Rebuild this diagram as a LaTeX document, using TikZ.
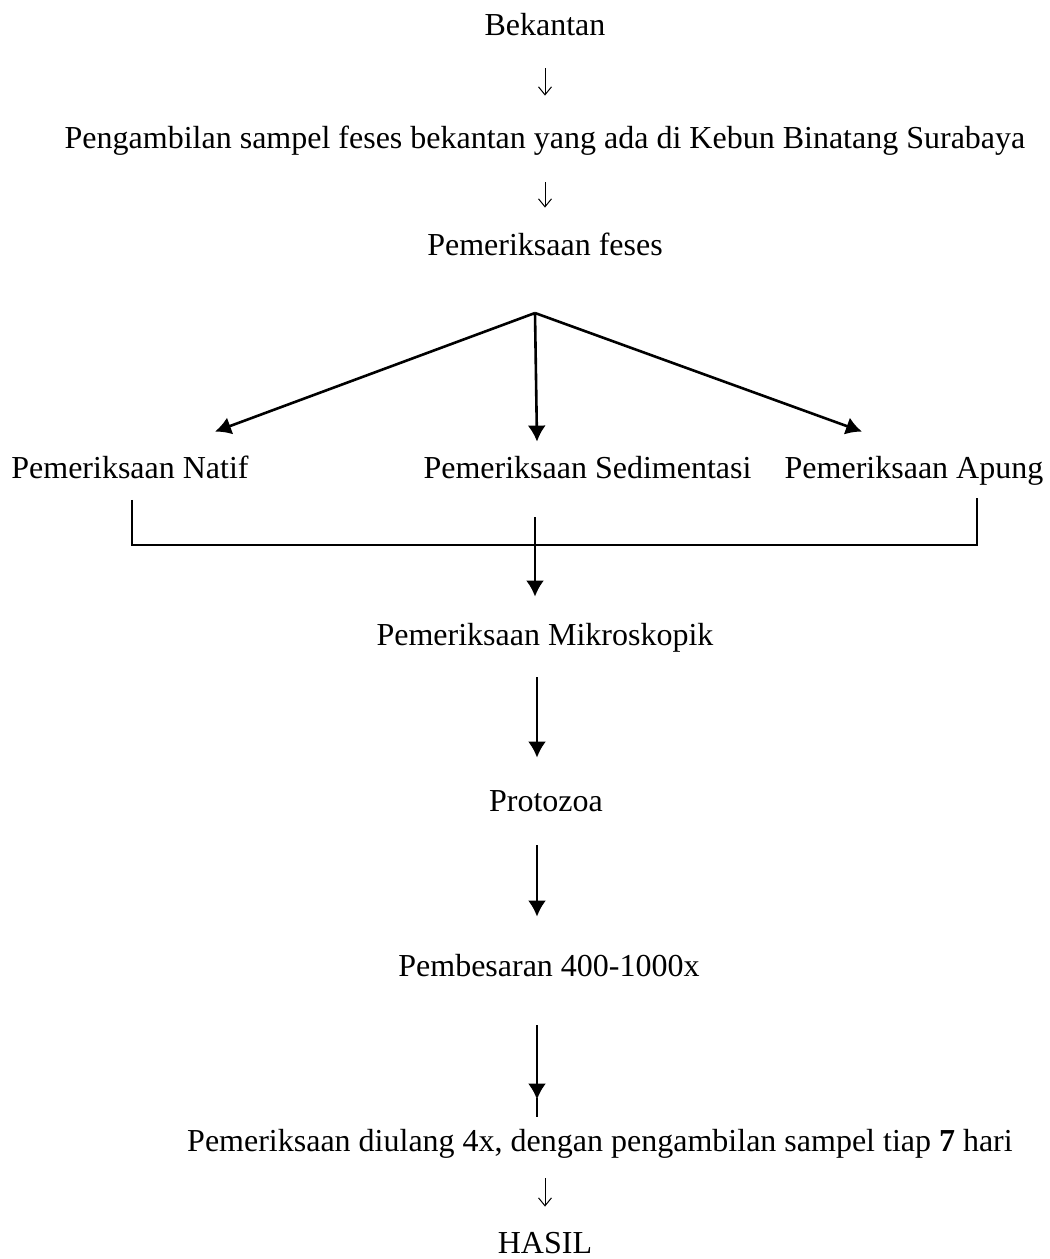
\documentclass[tikz,border=0pt]{standalone}
\usepackage{fontspec}
\setmainfont{Liberation Serif}
\usetikzlibrary{arrows.meta}
\begin{document}
\begin{tikzpicture}[x=0.5pt,y=-0.5pt,
  txt/.style={anchor=base,inner sep=0pt,text height=9.5pt,text depth=2.7pt,font=\fontsize{16}{19}\selectfont},
  thinarrow/.style={line width=0.5pt,-{Straight Barb[length=4pt,width=6.5pt]}},
  bigarrow/.style={line width=1.3pt,-{Latex[length=8pt,width=9pt]}},
  bracket/.style={line width=0.9pt}]
\useasboundingbox (0,0) rectangle (1050,1259);
     %steps:
\node (bekantan) at (545,35) [txt] {Bekantan};
\node (sampel) at (545,148) [txt] {Pengambilan sampel feses bekantan yang ada di Kebun Binatang Surabaya};
\node (feses) at (545,255) [txt] {Pemeriksaan feses};
\coordinate (split) at (535,313);

\begin{scope}
\node (natif) at (130,478) [txt] {Pemeriksaan Natif};
\node (sedimen) at (587.5,478) [txt] {Pemeriksaan Sedimentasi};
\node (apung) at (914,478) [txt] {Pemeriksaan Apung};
\coordinate (join) at (535,545);
\end{scope}

\node (mikro) at (545,645) [txt] {Pemeriksaan Mikroskopik};
\node (protozoa) at (546,811) [txt] {Protozoa};
\node (besar) at (549,976) [txt] {Pembesaran 400-1000x};
\node (ulang) at (600,1151) [txt] {Pemeriksaan diulang 4x, dengan pengambilan sampel tiap \textbf{7} hari};
\node (hasil) at (545,1253) [txt] {HASIL};

\draw [thinarrow] ([yshift=-13.8pt]bekantan.south) -- ([yshift=16.5pt]sampel.north);
\draw [thinarrow] ([yshift=-14.3pt]sampel.south) -- ([yshift=14pt]feses.north);
\draw [bigarrow] (split) -- ([xshift=42.5pt,yshift=13.5pt]natif.north);
\draw [bigarrow] (split) -- ([xshift=-25.25pt,yshift=8.5pt]sedimen.north);
\draw [bigarrow] (split) -- ([xshift=-26pt,yshift=13.5pt]apung.north);
\draw [bracket] ([xshift=1pt,yshift=-8pt]natif.south) |- (join) -| ([xshift=31.5pt,yshift=-7pt]apung.south);
\draw [bigarrow] ([xshift=-26.25pt,yshift=-16.8pt]sedimen.south) -- ([xshift=-5pt,yshift=14.5pt]mikro.north);
\draw [bigarrow] ([xshift=-4pt,yshift=-13.3pt]mikro.south) -- ([xshift=-4.5pt,yshift=17pt]protozoa.north);
\draw [bigarrow] ([xshift=-4.5pt,yshift=-14.3pt]protozoa.south) -- ([xshift=-6pt,yshift=20pt]besar.north);
\draw [bigarrow] ([xshift=-6pt,yshift=-21.8pt]besar.south) -- ([xshift=-31.5pt,yshift=16pt]ulang.north);
\draw [line width=1.3pt] ([xshift=-31.5pt,yshift=17pt]ulang.north) -- ([xshift=-31.5pt,yshift=7.5pt]ulang.north);
\draw [thinarrow] ([xshift=-27.5pt,yshift=-10.8pt]ulang.south) -- ([yshift=13.5pt]hasil.north);
   \end{tikzpicture}
\end{document}
